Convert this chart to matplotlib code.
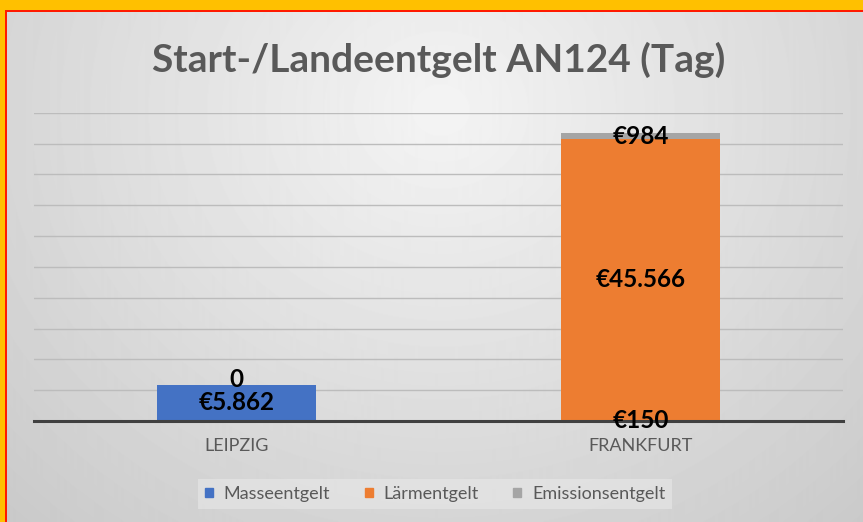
import numpy as np
import matplotlib
matplotlib.use("Agg")
import matplotlib.pyplot as plt
from matplotlib.patches import Rectangle, Patch

categories = ['LEIPZIG', 'FRANKFURT']
series = ['Masseentgelt', 'Lärmentgelt', 'Emissionsentgelt']
masse = [5862, 150]
laerm = [0, 45566]
emission = [np.nan, 984]
colors = ['#4472C4', '#ED7D31', '#A5A5A5']

def fmt(v):
    if v == 0:
        return '0'
    return '€' + '{:,}'.format(int(v)).replace(',', '.')

W, H = 863, 522
fig = plt.figure(figsize=(W/100, H/100), dpi=100)

# hintergrund mit verlauf + rahmen
bg = fig.add_axes([0, 0, 1, 1], zorder=-10)
yy, xx = np.mgrid[0:H, 0:W]
r = np.sqrt(((xx-440)/500)**2 + ((yy-110)/450)**2)
g = np.clip(244 - 34*r, 198, 244)/255
bg.imshow(g, cmap='gray', vmin=0, vmax=1, extent=[0, W, H, 0], aspect='auto')
bg.set_xlim(0, W)
bg.set_ylim(H, 0)
bg.axis('off')
bg.add_patch(Rectangle((0, 0), W, 10, color='#FFC000', lw=0))
bg.add_patch(Rectangle((0, 0), 5, H, color='#FFC000', lw=0))
bg.add_patch(Rectangle((5, 10), W-5, 2, color='#FF1A00', lw=0))
bg.add_patch(Rectangle((5, 10), 2, H-10, color='#FF1A00', lw=0))

ax = fig.add_axes([34/W, 1-421/H, 809/W, 308.3/H])
ax.patch.set_alpha(0)
x = np.arange(len(categories))
w = 0.393
bottom = np.zeros(len(categories))
for vals, name, c in zip([masse, laerm, emission], series, colors):
    v = np.array(vals, dtype=float)
    ax.bar(x, v, w, bottom=bottom, color=c, label=name, zorder=2)
    for i in range(len(x)):
        if np.isnan(v[i]):
            continue
        yc = bottom[i] + v[i]/2
        if v[i] == 0:
            yc = bottom[i] + 900
        ax.text(x[i], yc, fmt(v[i]), ha='center', va='center', fontsize=17.5,
                fontweight='bold', family='Lato', color='black', zorder=5)
    bottom = bottom + np.nan_to_num(v)

ax.set_xlim(-0.5, 1.5)
ax.set_ylim(0, 50000)
ax.set_yticks(np.arange(0, 50001, 5000))
ax.yaxis.grid(True, color='#bcbcbc', lw=1)
ax.set_axisbelow(True)
ax.set_xticks(x)
ax.set_xticklabels(categories, family='Lato', fontsize=13, color='#595959')
ax.tick_params(left=False, bottom=False, labelleft=False, pad=9)
for s in ['left', 'right', 'top']:
    ax.spines[s].set_visible(False)
ax.spines['bottom'].set_color('#404040')
ax.spines['bottom'].set_linewidth(2.2)
ax.spines['bottom'].set_zorder(4)

fig.text(439/W, 1-60/H, 'Start-/Landeentgelt AN124 (Tag)', ha='center', va='center',
         fontsize=28, fontweight='bold', family='Lato', color='#595959')

handles = [Patch(color=c) for c in colors]
leg = fig.legend(handles, series, loc='center', bbox_to_anchor=(435/W, 1-494/H), ncol=3,
                 handlelength=0.45, handleheight=0.45, handletextpad=0.6, columnspacing=1.9,
                 frameon=True, fancybox=False, edgecolor='none', facecolor='#e8e8e8',
                 framealpha=0.6, prop={'family': 'Lato', 'size': 13})
for t in leg.get_texts():
    t.set_color('#595959')

plt.savefig('out.png', dpi=100)
